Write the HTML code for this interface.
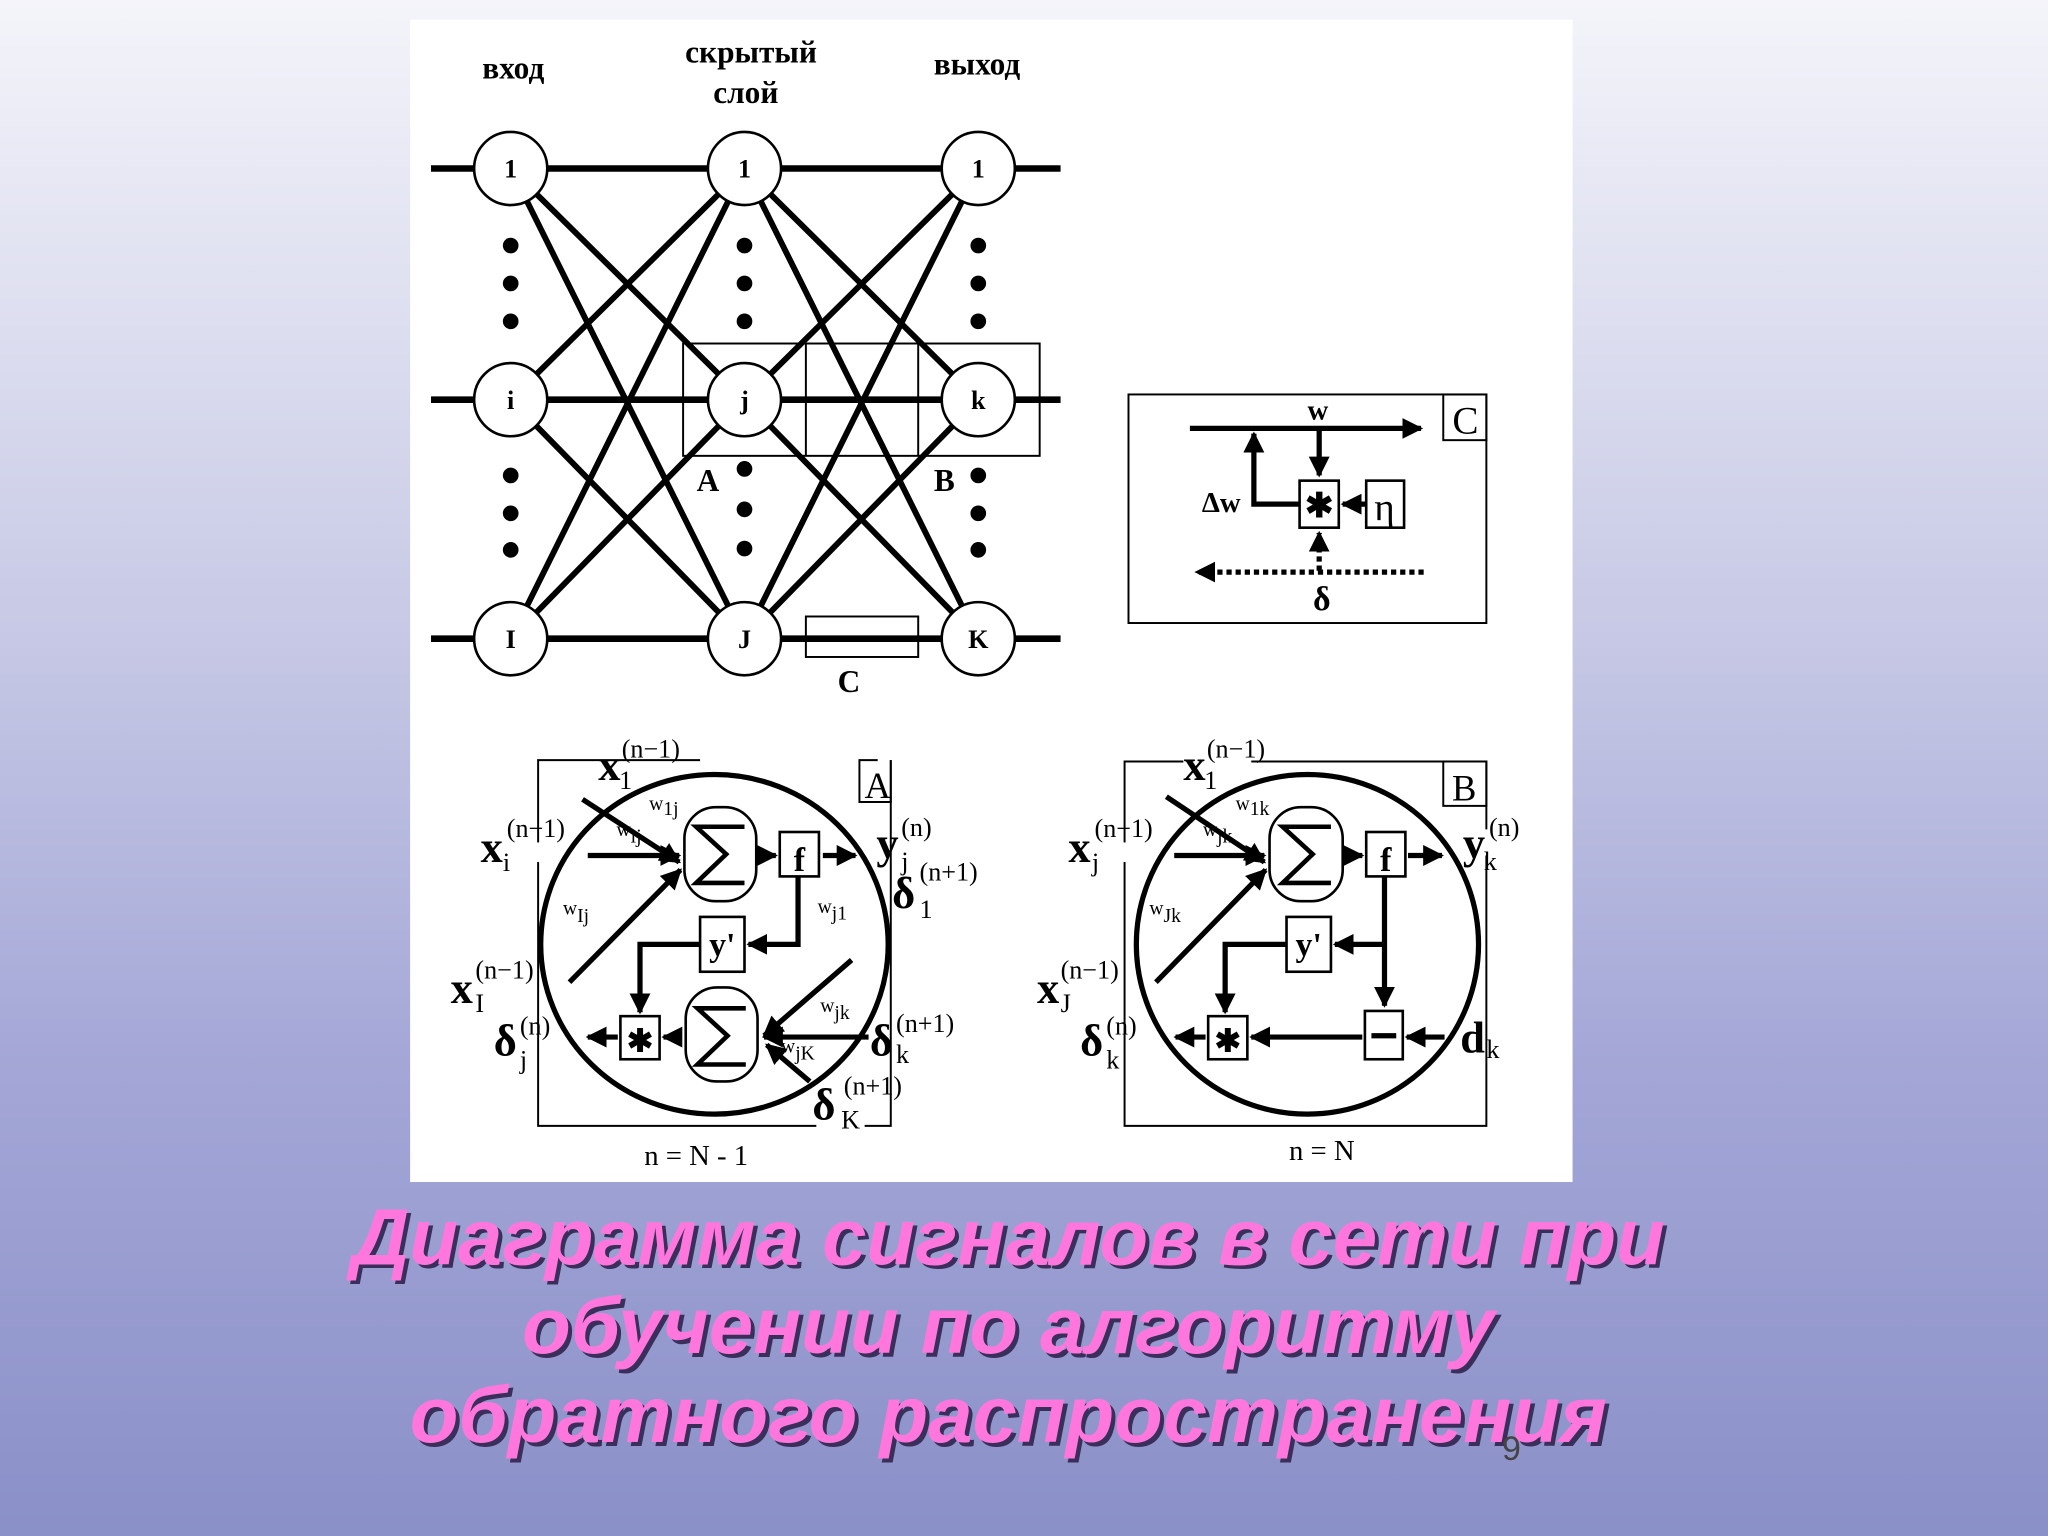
<!DOCTYPE html>
<html><head><meta charset="utf-8"><style>
html,body{margin:0;padding:0}
body{width:2048px;height:1536px;overflow:hidden;background:linear-gradient(#f4f4fa 0%,#c8cae6 40%,#a3a6d6 70%,#8a90c8 100%);}
svg{position:absolute;left:0;top:0}
</style></head><body>
<svg width="2048" height="1536" viewBox="0 0 1568 1176" xmlns="http://www.w3.org/2000/svg" font-family="Liberation Serif, serif">
<defs>
<marker id="ah" viewBox="0 0 10 10" refX="9" refY="5" markerWidth="4" markerHeight="4" orient="auto"><path d="M0,0 L10,5 L0,10z" fill="#000"/></marker>
</defs>
<rect x="314" y="15" width="890" height="890" fill="#fff"/>
<g font-weight="bold" font-size="24" text-anchor="middle">
<text x="393" y="60">вход</text>
<text x="575" y="48">скрытый</text>
<text x="571" y="79">слой</text>
<text x="748" y="57">выход</text>
</g>
<g stroke="#000" stroke-width="5">
<line x1="330" y1="129" x2="812" y2="129"/>
<line x1="330" y1="306" x2="812" y2="306"/>
<line x1="330" y1="489" x2="812" y2="489"/>
<g stroke-width="4.5">
<line x1="391" y1="129" x2="570" y2="306"/><line x1="391" y1="129" x2="570" y2="489"/>
<line x1="391" y1="306" x2="570" y2="129"/><line x1="391" y1="306" x2="570" y2="489"/>
<line x1="391" y1="489" x2="570" y2="129"/><line x1="391" y1="489" x2="570" y2="306"/>
<line x1="570" y1="129" x2="749" y2="306"/><line x1="570" y1="129" x2="749" y2="489"/>
<line x1="570" y1="306" x2="749" y2="129"/><line x1="570" y1="306" x2="749" y2="489"/>
<line x1="570" y1="489" x2="749" y2="129"/><line x1="570" y1="489" x2="749" y2="306"/>
</g>
</g>
<g stroke="#000" stroke-width="1.5" fill="none">
<rect x="523" y="263" width="273" height="86"/>
<line x1="617" y1="263" x2="617" y2="349"/><line x1="703" y1="263" x2="703" y2="349"/>
<rect x="617" y="472" width="86" height="31"/>
</g>
<g fill="#fff" stroke="#000" stroke-width="2">
<circle cx="391" cy="129" r="28"/><circle cx="570" cy="129" r="28"/><circle cx="749" cy="129" r="28"/>
<circle cx="391" cy="306" r="28"/><circle cx="570" cy="306" r="28"/><circle cx="749" cy="306" r="28"/>
<circle cx="391" cy="489" r="28"/><circle cx="570" cy="489" r="28"/><circle cx="749" cy="489" r="28"/>
</g>
<g font-size="20" text-anchor="middle" font-weight="bold">
<text x="391" y="136">1</text><text x="570" y="136">1</text><text x="749" y="136">1</text>
<text x="391" y="313">i</text><text x="570" y="313">j</text><text x="749" y="313">k</text>
<text x="391" y="496">I</text><text x="570" y="496">J</text><text x="749" y="496">K</text>
</g>
<g fill="#000">
<circle cx="391" cy="188" r="6"/><circle cx="391" cy="217" r="6"/><circle cx="391" cy="246" r="6"/>
<circle cx="391" cy="364" r="6"/><circle cx="391" cy="393" r="6"/><circle cx="391" cy="421" r="6"/>
<circle cx="570" cy="188" r="6"/><circle cx="570" cy="217" r="6"/><circle cx="570" cy="246" r="6"/>
<circle cx="570" cy="359" r="6"/><circle cx="570" cy="390" r="6"/><circle cx="570" cy="420" r="6"/>
<circle cx="749" cy="188" r="6"/><circle cx="749" cy="217" r="6"/><circle cx="749" cy="246" r="6"/>
<circle cx="749" cy="364" r="6"/><circle cx="749" cy="393" r="6"/><circle cx="749" cy="421" r="6"/>
</g>
<g font-size="24" font-weight="bold" text-anchor="middle">
<text x="542" y="376">A</text><text x="723" y="376">B</text><text x="650" y="530">C</text>
</g>

<!-- C -->
<rect x="864" y="302" width="274" height="175" fill="none" stroke="#000" stroke-width="1.5"/>
<rect x="1105" y="302" width="33" height="35" fill="none" stroke="#000" stroke-width="1.5"/>
<text x="1122" y="332" font-size="30" text-anchor="middle">C</text>
<text x="1009" y="321" font-size="22" font-weight="bold" text-anchor="middle">w</text>
<g stroke="#000" stroke-width="4" fill="none">
<line x1="911" y1="328" x2="1088" y2="328" marker-end="url(#ah)"/>
<polyline points="995,386 960,386 960,332" marker-end="url(#ah)"/>
<line x1="1010" y1="328" x2="1010" y2="364" marker-end="url(#ah)"/>
<line x1="1046" y1="386" x2="1028" y2="386" marker-end="url(#ah)"/>
<line x1="1090" y1="438" x2="916" y2="438" stroke-dasharray="4,3" marker-end="url(#ah)"/>
<line x1="1010" y1="437" x2="1010" y2="408" stroke-dasharray="4,3" marker-end="url(#ah)"/>
</g>
<g stroke="#000" stroke-width="2" fill="#fff">
<rect x="995" y="368" width="30" height="36"/><rect x="1046" y="368" width="29" height="36"/>
</g>
<text x="1010" y="396" font-size="26" font-weight="bold" text-anchor="middle">✱</text>
<text x="1060" y="398" font-size="30" text-anchor="middle">η</text>
<text x="935" y="392" font-size="22" font-weight="bold" text-anchor="middle">Δw</text>
<text x="1012" y="467" font-size="26" font-weight="bold" text-anchor="middle">δ</text>

<!-- A -->
<g fill="none" stroke="#000" stroke-width="1.5">
<polyline points="536,582 412,582 412,862 625,862"/><polyline points="682,582 682,862 662,862"/>
<polyline points="682,582 682,614 658,614 658,582 672,582" />
</g>
<line x1="412" y1="645" x2="412" y2="660" stroke="#fff" stroke-width="4"/>
<text x="672" y="611" font-size="28" text-anchor="middle">A</text>
<ellipse cx="547" cy="723" rx="133" ry="130" fill="none" stroke="#000" stroke-width="4"/>
<g stroke="#000" stroke-width="2" fill="#fff">
<rect x="524" y="618" width="55" height="72" rx="24"/><rect x="525" y="756" width="55" height="72" rx="24"/>
<rect x="597" y="637" width="30" height="34"/><rect x="536" y="702" width="34" height="42"/><rect x="475" y="778" width="30" height="33"/>
</g>
<g fill="none" stroke="#000" stroke-width="4">
<polyline points="570,633 533,633 556,654 533,676 570,676" stroke-width="3.5"/>
<polyline points="571,772 534,772 557,793 534,815 571,815" stroke-width="3.5"/>
<line x1="450" y1="655" x2="520" y2="655" marker-end="url(#ah)"/>
<line x1="446" y1="612" x2="520" y2="660" marker-end="url(#ah)"/>
<line x1="436" y1="752" x2="521" y2="666" marker-end="url(#ah)"/>
<line x1="583" y1="655" x2="594" y2="655" marker-end="url(#ah)"/>
<line x1="630" y1="655" x2="655" y2="655" marker-end="url(#ah)"/>
<polyline points="611,671 611,723 573,723" marker-end="url(#ah)"/>
<polyline points="536,723 490,723 490,775" marker-end="url(#ah)"/>
<line x1="521" y1="794" x2="508" y2="794" marker-end="url(#ah)"/>
<line x1="473" y1="794" x2="450" y2="794" marker-end="url(#ah)"/>
<line x1="652" y1="735" x2="585" y2="793" marker-end="url(#ah)"/>
<line x1="665" y1="794" x2="585" y2="794" marker-end="url(#ah)"/>
<line x1="620" y1="828" x2="587" y2="800" marker-end="url(#ah)"/>
</g>
<g font-weight="bold" text-anchor="middle">
<text x="612" y="667" font-size="26">f</text><text x="553" y="732" font-size="26">y'</text>
<text x="490" y="805" font-size="24">✱</text>
</g>
<g font-size="34" font-weight="bold"><text x="458" y="597">x</text><text x="368" y="660">x</text><text x="345" y="768">x</text><text x="378" y="808">δ</text>
<text x="671" y="657">y</text><text x="683" y="695">δ</text><text x="666" y="808">δ</text><text x="622" y="857">δ</text></g>
<g font-size="20"><text x="476" y="580">(n−1)</text><text x="474" y="604">1</text>
<text x="388" y="641">(n−1)</text><text x="385" y="667">i</text>
<text x="364" y="749">(n−1)</text><text x="364" y="775">I</text>
<text x="398" y="792">(n)</text><text x="398" y="818">j</text>
<text x="690" y="640">(n)</text><text x="690" y="666">j</text><text x="704" y="674">(n+1)</text><text x="704" y="703">1</text>
<text x="686" y="790">(n+1)</text><text x="686" y="814">k</text>
<text x="646" y="838">(n+1)</text><text x="644" y="864">K</text>
</g>
<g font-size="15"><text x="497" y="620">w<tspan dy="4">1j</tspan></text><text x="472" y="640">w<tspan dy="5">ij</tspan></text>
<text x="431" y="700">w<tspan dy="6">Ij</tspan></text><text x="626" y="699">w<tspan dy="5">j1</tspan></text>
<text x="628" y="775">w<tspan dy="5">jk</tspan></text><text x="598" y="806">w<tspan dy="5">jK</tspan></text></g>
<text x="533" y="892" font-size="22" text-anchor="middle">n = N - 1</text>

<!-- B -->
<g fill="none" stroke="#000" stroke-width="1.5">
<polyline points="906,583 861,583 861,862 1138,862 1138,583 958,583"/>
<rect x="1105" y="583" width="33" height="34"/>
</g>
<line x1="861" y1="645" x2="861" y2="660" stroke="#fff" stroke-width="4"/>
<line x1="1138" y1="635" x2="1138" y2="655" stroke="#fff" stroke-width="4"/>
<text x="1121" y="613" font-size="28" text-anchor="middle">B</text>
<ellipse cx="1001" cy="723" rx="131" ry="130" fill="none" stroke="#000" stroke-width="4"/>
<g stroke="#000" stroke-width="2" fill="#fff">
<rect x="972" y="618" width="56" height="72" rx="24"/>
<rect x="1046" y="637" width="30" height="34"/><rect x="985" y="702" width="34" height="42"/><rect x="925" y="778" width="30" height="33"/>
<rect x="1045" y="774" width="29" height="37"/>
</g>
<g fill="none" stroke="#000" stroke-width="4">
<polyline points="1019,633 982,633 1005,654 982,676 1019,676" stroke-width="3.5"/>
<line x1="899" y1="655" x2="968" y2="655" marker-end="url(#ah)"/>
<line x1="893" y1="610" x2="968" y2="660" marker-end="url(#ah)"/>
<line x1="885" y1="752" x2="969" y2="666" marker-end="url(#ah)"/>
<line x1="1031" y1="655" x2="1043" y2="655" marker-end="url(#ah)"/>
<line x1="1078" y1="655" x2="1104" y2="655" marker-end="url(#ah)"/>
<line x1="1060" y1="671" x2="1060" y2="770" marker-end="url(#ah)"/>
<line x1="1060" y1="723" x2="1022" y2="723" marker-end="url(#ah)"/>
<polyline points="985,723 938,723 938,775" marker-end="url(#ah)"/>
<line x1="1043" y1="794" x2="958" y2="794" marker-end="url(#ah)"/>
<line x1="1106" y1="794" x2="1077" y2="794" marker-end="url(#ah)"/>
<line x1="923" y1="794" x2="900" y2="794" marker-end="url(#ah)"/>
<line x1="1050" y1="793" x2="1069" y2="793" stroke-width="4"/>
</g>
<g font-weight="bold" text-anchor="middle">
<text x="1061" y="667" font-size="26">f</text><text x="1002" y="732" font-size="26">y'</text>
<text x="940" y="805" font-size="24">✱</text>
</g>
<g font-size="34" font-weight="bold"><text x="906" y="597">x</text><text x="818" y="660">x</text><text x="794" y="768">x</text><text x="827" y="808">δ</text>
<text x="1120" y="657">y</text><text x="1118" y="806">d</text></g>
<g font-size="20"><text x="924" y="580">(n−1)</text><text x="922" y="604">1</text>
<text x="838" y="641">(n−1)</text><text x="836" y="667">j</text>
<text x="812" y="749">(n−1)</text><text x="812" y="775">J</text>
<text x="847" y="792">(n)</text><text x="847" y="818">k</text>
<text x="1140" y="640">(n)</text><text x="1136" y="666">k</text><text x="1138" y="810">k</text>
</g>
<g font-size="15"><text x="946" y="620">w<tspan dy="4">1k</tspan></text><text x="921" y="640">w<tspan dy="5">jk</tspan></text>
<text x="880" y="700">w<tspan dy="6">Jk</tspan></text></g>
<text x="1012" y="888" font-size="22" text-anchor="middle">n = N</text>

<!-- title -->
<g font-family="Liberation Sans, sans-serif" font-size="61" font-weight="bold" font-style="italic" text-anchor="middle">
<g fill="#3a2e5a" transform="translate(3,3)">
<text x="772" y="968">Диаграмма сигналов в сети при</text>
<text x="772" y="1036">обучении по алгоритму</text>
<text x="772" y="1104">обратного распространения</text>
</g>
<g fill="#ff77dd">
<text x="772" y="968">Диаграмма сигналов в сети при</text>
<text x="772" y="1036">обучении по алгоритму</text>
<text x="772" y="1104">обратного распространения</text>
</g>
</g>
<text x="1150" y="1118" font-family="Liberation Sans, sans-serif" font-size="26" fill="#444">9</text>
</svg>
</body></html>
